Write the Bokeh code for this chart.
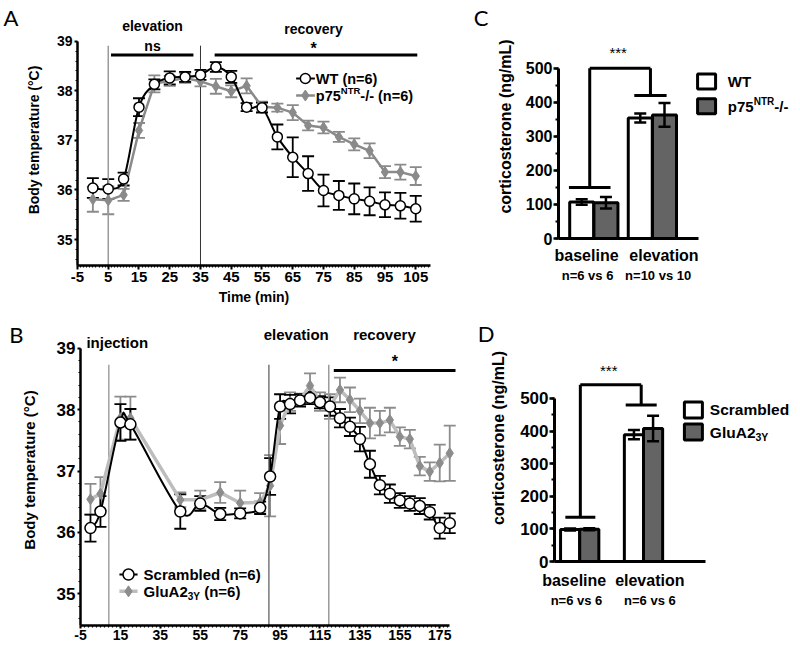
from bokeh.plotting import figure
from bokeh.layouts import row, column
from bokeh.models import Range1d, FixedTicker, Whisker, TeeHead, ColumnDataSource, LinearAxis
from bokeh.core.properties import value
from bokeh.embed import file_html
from bokeh.resources import INLINE

FONT = "Liberation Sans"
LETTER_FONT = "Lato"

# ---------------- data ----------------
# Panel A: body temperature, WT vs p75NTR-/-
A_time = [0, 5, 10, 15, 20, 25, 30, 35, 40, 45, 50, 55, 60, 65, 70, 75, 80, 85, 90, 95, 100, 105]
A_wt = [36.04, 36.02, 36.22, 37.67, 38.13, 38.26, 38.28, 38.32, 38.48, 38.28, 37.67, 37.66,
        37.07, 36.66, 36.33, 35.99, 35.89, 35.82, 35.77, 35.70, 35.68, 35.62]
A_wt_sem = [0.20, 0.20, 0.13, 0.18, 0.10, 0.13, 0.10, 0.10, 0.10, 0.12, 0.08, 0.10,
            0.25, 0.40, 0.35, 0.32, 0.29, 0.31, 0.28, 0.25, 0.26, 0.26]
A_ko = [35.81, 35.79, 35.90, 37.20, 38.14, 38.20, 38.26, 38.19, 38.09, 37.99, 38.10, 37.68,
        37.66, 37.56, 37.30, 37.26, 37.07, 36.92, 36.79, 36.36, 36.36, 36.28]
A_ko_sem = [0.25, 0.28, 0.12, 0.15, 0.17, 0.10, 0.10, 0.10, 0.15, 0.12, 0.15, 0.10,
            0.08, 0.15, 0.10, 0.12, 0.10, 0.12, 0.15, 0.12, 0.15, 0.18]
A_xticks = [-5, 5, 15, 25, 35, 45, 55, 65, 75, 85, 95, 105]
A_phase = [5, 35]
A_sig_ns = [5.9, 32.7]
A_sig_star = [39.6, 105.5]

# Panel B: body temperature, Scrambled vs GluA2-3Y
B_time = [0, 5, 15, 20, 45, 55, 65, 75, 85, 90, 95, 100, 105, 110, 115, 120, 125, 130,
          135, 140, 145, 150, 155, 160, 165, 170, 175, 180]
B_scr = [36.07, 36.34, 37.79, 37.76, 36.34, 36.47, 36.30, 36.31, 36.40, 36.91, 38.05, 38.09,
         38.15, 38.19, 38.12, 38.05, 37.86, 37.72, 37.52, 37.11, 36.77, 36.63, 36.52, 36.47,
         36.43, 36.33, 36.07, 36.15]
B_scr_sem = [0.22, 0.25, 0.30, 0.25, 0.28, 0.12, 0.10, 0.08, 0.10, 0.30, 0.20, 0.15, 0.10,
             0.10, 0.10, 0.15, 0.15, 0.15, 0.20, 0.22, 0.15, 0.15, 0.12, 0.12, 0.13, 0.12,
             0.17, 0.16]
B_glu = [36.54, 36.63, 37.86, 37.86, 36.53, 36.53, 36.65, 36.48, 36.49, 36.76, 37.74, 38.13,
         38.16, 38.39, 38.13, 38.05, 38.32, 38.16, 37.98, 37.78, 37.78, 37.83, 37.56, 37.52,
         37.08, 36.99, 37.13, 37.29]
B_glu_sem = [0.25, 0.27, 0.35, 0.35, 0.12, 0.15, 0.17, 0.20, 0.15, 0.50, 0.30, 0.15, 0.10,
             0.20, 0.15, 0.20, 0.20, 0.20, 0.20, 0.25, 0.20, 0.20, 0.15, 0.15, 0.15, 0.15,
             0.30, 0.45]
B_xticks = [-5, 15, 35, 55, 75, 95, 115, 135, 155, 175]
B_phase = [9.2, 89.4, 119.4]
B_sig_star = [121.9, 182.9]

T_ticks = [35, 36, 37, 38, 39]

# Panel C: corticosterone WT vs p75NTR-/-
C_groups = ["baseline", "elevation"]
C_n = ["n=6 vs 6", "n=10 vs 10"]
C_wt = [107, 354]
C_wt_sem = [8, 13]
C_ko = [105, 363]
C_ko_sem = [17, 35]
C_bracket_top = 500
C_bracket_lvl = [150, 420]

# Panel D: corticosterone Scrambled vs GluA2-3Y
D_groups = ["baseline", "elevation"]
D_n = ["n=6 vs 6", "n=6 vs 6"]
D_scr = [98, 389]
D_scr_sem = [3, 14]
D_glu = [99, 408]
D_glu_sem = [3, 39]
D_bracket_top = 542
D_bracket_lvl = [136, 480]

CORT_ticks = [0, 100, 200, 300, 400, 500]

# Arial-bold advance widths (per em) for composing super/subscript labels
AW = {'p': .611, '7': .556, '5': .556, 'N': .722, 'T': .611, 'R': .722, 'G': .778, 'l': .278,
      'u': .611, 'A': .722, '2': .556, '3': .556, 'Y': .667, ' ': .278}


def tw(s, size):
    return sum(AW.get(c, 0.556) for c in s) * size


GRAY_A = "#8a8a8a"
GRAY_B_LINE = "#bdbdbd"
GRAY_B = "#8c8c8c"
BAR_DARK = "#646464"


def base_style(p):
    p.outline_line_color = None
    p.xgrid.visible = False
    p.ygrid.visible = False
    p.background_fill_color = "white"
    p.border_fill_color = "white"
    for ax in p.axis:
        ax.axis_line_color = "black"
        ax.major_tick_line_color = "black"
        ax.minor_tick_line_color = "black"
        ax.major_tick_in = 0
        ax.minor_tick_in = 0
        ax.major_label_text_font = FONT
        ax.major_label_text_font_style = "bold"
        ax.major_label_text_color = "black"
        ax.axis_label_text_font = FONT
        ax.axis_label_text_font_style = "bold"
        ax.axis_label_text_color = "black"


def letter_axis(p, yv, letter, standoff):
    ax = LinearAxis(ticker=FixedTicker(ticks=[yv]), major_label_overrides={yv: letter},
                    axis_line_color=None, major_tick_line_color=None, minor_tick_line_color=None,
                    major_tick_out=0, major_tick_in=0, minor_tick_out=0, minor_tick_in=0,
                    major_label_text_font=LETTER_FONT, major_label_text_font_size="22px",
                    major_label_text_font_style="normal", major_label_text_color="black",
                    major_label_standoff=standoff)
    p.add_layout(ax, "left")


def category_axes(p, lab_x, labels, lab_size, lab_standoff, n_x, n_labels, n_size, n_standoff, x0, xend):
    ax = p.xaxis[0]
    ax.ticker = FixedTicker(ticks=lab_x)
    ax.major_label_overrides = dict(zip(lab_x, labels))
    ax.major_tick_out = 0
    ax.major_tick_line_color = None
    ax.major_label_standoff = lab_standoff
    ax.major_label_text_font_size = lab_size
    ax.bounds = (x0, xend)
    ax2 = LinearAxis(ticker=FixedTicker(ticks=n_x), major_label_overrides=dict(zip(n_x, n_labels)),
                     axis_line_color=None, major_tick_line_color=None, minor_tick_line_color=None,
                     major_tick_out=0, major_tick_in=0, minor_tick_out=0, minor_tick_in=0,
                     major_label_text_font=FONT, major_label_text_font_style="bold",
                     major_label_text_font_size=n_size, major_label_text_color="black",
                     major_label_standoff=n_standoff)
    p.add_layout(ax2, "below")


def whisker(p, xs, ys, es, color, width, cap, level="underlay"):
    src = ColumnDataSource(dict(x=xs, upper=[y + e for y, e in zip(ys, es)],
                                lower=[y - e for y, e in zip(ys, es)]))
    w = Whisker(source=src, base="x", upper="upper", lower="lower", level=level,
                line_color=color, line_width=width,
                upper_head=TeeHead(size=cap, line_color=color, line_width=width),
                lower_head=TeeHead(size=cap, line_color=color, line_width=width))
    p.add_layout(w)


def smooth_line(p, xs, ys, color, width):
    # curve drawn through the data points with bezier glyphs (Catmull-Rom style handles)
    n = len(xs)
    x0, y0, x1, y1, cx0, cy0, cx1, cy1 = [], [], [], [], [], [], [], []
    for i in range(n - 1):
        xp, yp = (xs[i - 1], ys[i - 1]) if i > 0 else (xs[i], ys[i])
        xn, yn = (xs[i + 2], ys[i + 2]) if i + 2 < n else (xs[i + 1], ys[i + 1])
        x0.append(xs[i]); y0.append(ys[i]); x1.append(xs[i + 1]); y1.append(ys[i + 1])
        cx0.append(xs[i] + (xs[i + 1] - xp) / 6); cy0.append(ys[i] + (ys[i + 1] - yp) / 6)
        cx1.append(xs[i + 1] - (xn - xs[i]) / 6); cy1.append(ys[i + 1] - (yn - ys[i]) / 6)
    p.bezier(x0=x0, y0=y0, x1=x1, y1=y1, cx0=cx0, cy0=cy0, cx1=cx1, cy1=cy1,
             line_color=color, line_width=width)


def txt(p, x, y, s, size, align="center", xo=0, yo=0, bold=True, font=FONT, color="black"):
    p.text(x=[x], y=[y], text=[s], text_font=value(font), text_font_size=size,
           text_font_style="bold" if bold else "normal", text_align=align,
           text_baseline="middle", x_offset=xo, y_offset=yo, text_color=color)


# ================= Panel A =================
A_y0, A_y1 = 34.476, 39.539
pA = figure(width=470, height=311, x_range=Range1d(-5, 109.8), y_range=Range1d(A_y0, A_y1),
            output_backend="svg", toolbar_location=None,
            min_border_left=70, min_border_right=40, min_border_top=14, min_border_bottom=46)
base_style(pA)
pA.xaxis.ticker = FixedTicker(ticks=A_xticks, minor_ticks=list(range(-5, 110, 1)))
pA.xaxis.major_label_overrides = {-5: "-5"}
pA.yaxis.ticker = FixedTicker(ticks=T_ticks,
                              minor_ticks=[round(34.6 + 0.2 * i, 1) for i in range(23)])
pA.yaxis.bounds = (A_y0, 39)
pA.xaxis.axis_label = "Time (min)"
pA.yaxis.axis_label = "Body temperature (°C)"
for ax in pA.axis:
    ax.axis_line_width = 2.5
    ax.major_tick_line_width = 2
    ax.minor_tick_line_width = 1.2
    ax.axis_label_text_font_size = "14px"
pA.xaxis.major_tick_out = 4
pA.xaxis.minor_tick_out = 2
pA.xaxis.major_label_standoff = 2
pA.xaxis.major_label_text_font_size = "15px"
pA.xaxis.axis_label_standoff = 4
pA.yaxis.major_tick_out = 3
pA.yaxis.minor_tick_out = 2
pA.yaxis.major_label_standoff = 2
pA.yaxis.major_label_text_font_size = "14px"
pA.yaxis.axis_label_standoff = 12
letter_axis(pA, 39.48, "A", 4)

pA.segment(x0=[A_phase[0]], y0=[A_y0], x1=[A_phase[0]], y1=[38.91], line_color="#9a9a9a", line_width=1.5)
pA.segment(x0=[A_phase[1]], y0=[A_y0], x1=[A_phase[1]], y1=[38.91], line_color="#333333", line_width=1)
pA.segment(x0=[A_sig_ns[0], A_sig_star[0]], y0=[38.72, 38.72], x1=[A_sig_ns[1], A_sig_star[1]],
           y1=[38.72, 38.72], line_color="black", line_width=3)
txt(pA, sum(A_sig_ns) / 2 + 0.1, 39.297, "elevation", "14px")
txt(pA, sum(A_sig_star) / 2 - 0.8, 39.256, "recovery", "14px")
txt(pA, sum(A_sig_ns) / 2 + 0.1, 38.905, "ns", "14px")
txt(pA, sum(A_sig_star) / 2 - 0.8, 38.86, "*", "16px")

whisker(pA, A_time, A_ko, A_ko_sem, GRAY_A, 1.8, 12)
pA.line(A_time, A_ko, line_color=GRAY_A, line_width=2.5)
pA.scatter(A_time, A_ko, marker="diamond", size=11, fill_color=GRAY_A, line_color=GRAY_A)
whisker(pA, A_time, A_wt, A_wt_sem, "black", 1.8, 12)
smooth_line(pA, A_time, A_wt, "black", 2)
pA.scatter(A_time, A_wt, marker="circle", size=10, fill_color="white", line_color="black", line_width=1.5)

# legend A
pA.segment(x0=[66.1, 66.1], y0=[38.248, 37.905], x1=[72.2, 72.2], y1=[38.248, 37.905],
           line_color=["black", GRAY_A], line_width=[2, 2.5])
pA.scatter([69.1], [38.248], marker="circle", size=10, fill_color="white", line_color="black", line_width=1.5)
pA.scatter([69.1], [37.905], marker="diamond", size=11, fill_color=GRAY_A, line_color=GRAY_A)
LA = "14.5px"
txt(pA, 72.5, 38.248, "WT (n=6)", LA, align="left")
txt(pA, 72.5, 37.905, "p75", LA, align="left")
txt(pA, 72.5, 37.905, "NTR", "9.5px", align="left", xo=tw("p75", 14.5), yo=-5)
txt(pA, 72.5, 37.905, "-/- (n=6)", LA, align="left", xo=tw("p75", 14.5) + tw("NTR", 9.5))

# ================= Panel C =================
C_x0, C_x1 = 0.3967, 4.4612
C_pos = [1, 2]
pC = figure(width=326, height=285, x_range=Range1d(C_x0, C_x1), y_range=Range1d(0, 657.9),
            output_backend="svg", toolbar_location=None,
            min_border_left=80, min_border_right=0, min_border_top=14, min_border_bottom=46)
base_style(pC)
pC.yaxis.ticker = FixedTicker(ticks=CORT_ticks, minor_ticks=list(range(0, 501, 50)))
pC.yaxis.bounds = (0, 500)
pC.yaxis.axis_label = "corticosterone (ng/mL)"
for ax in pC.axis:
    ax.axis_line_width = 3
    ax.major_tick_line_width = 2.5
    ax.minor_tick_line_width = 2
pC.yaxis.major_tick_out = 5
pC.yaxis.minor_tick_out = 3
pC.yaxis.major_label_standoff = 1
pC.yaxis.major_label_text_font_size = "16px"
pC.yaxis.axis_label_text_font_size = "16px"
pC.yaxis.axis_label_standoff = 9
category_axes(pC, [0.876, 2.198], C_groups, "16px", 8, [0.893, 2.099], C_n, "13px", 1, C_x0, 2.793)
letter_axis(pC, 650, "C", 5)

bw = 0.41
pC.vbar(x=[c - 0.207 for c in C_pos], top=C_wt, width=bw, fill_color="white", line_color="black", line_width=3)
pC.vbar(x=[c + 0.207 for c in C_pos], top=C_ko, width=bw, fill_color=BAR_DARK, line_color="black", line_width=3)
whisker(pC, [c - 0.207 for c in C_pos], C_wt, C_wt_sem, "black", 2.5, 12, level="annotation")
whisker(pC, [c + 0.207 for c in C_pos], C_ko, C_ko_sem, "black", 2.5, 12, level="annotation")
cb = [C_pos[0] - 0.07, C_pos[1] - 0.033]
chw = [0.355, 0.276]
pC.segment(x0=cb, y0=C_bracket_lvl, x1=cb, y1=[C_bracket_top] * 2, line_color="black", line_width=3)
pC.segment(x0=[cb[0]], y0=[C_bracket_top], x1=[cb[1]], y1=[C_bracket_top], line_color="black", line_width=3)
pC.segment(x0=[b - h for b, h in zip(cb, chw)], y0=C_bracket_lvl, x1=[b + h for b, h in zip(cb, chw)],
           y1=C_bracket_lvl, line_color="black", line_width=3)
txt(pC, 1.416, 546, "***", "15px", bold=False)
# legend C
pC.rect(x=[2.9256, 2.9256], y=[461.4, 388.3], width=18, height=15, width_units="screen",
        height_units="screen", fill_color=["white", BAR_DARK], line_color="black", line_width=3)
LC = "15px"
txt(pC, 3.289, 461.4, "WT", LC, align="left")
txt(pC, 3.289, 388.3, "p75", LC, align="left")
txt(pC, 3.289, 388.3, "NTR", "10px", align="left", xo=tw("p75", 15), yo=-5)
txt(pC, 3.289, 388.3, "-/-", LC, align="left", xo=tw("p75", 15) + tw("NTR", 10))

# ================= Panel B =================
B_y0, B_y1 = 34.484, 39.549
pB = figure(width=470, height=336, x_range=Range1d(-5, 186.4), y_range=Range1d(B_y0, B_y1),
            output_backend="svg", toolbar_location=None,
            min_border_left=80, min_border_right=8, min_border_top=3, min_border_bottom=22)
base_style(pB)
pB.xaxis.ticker = FixedTicker(ticks=B_xticks, minor_ticks=list(range(-5, 181, 2)))
pB.xaxis.major_label_overrides = {-5: "-5"}
pB.xaxis.bounds = (-5, 180)
pB.yaxis.ticker = FixedTicker(ticks=T_ticks,
                              minor_ticks=[round(34.6 + 0.2 * i, 1) for i in range(23)])
pB.yaxis.bounds = (B_y0, 39)
pB.yaxis.axis_label = "Body temperature (°C)"
for ax in pB.axis:
    ax.axis_line_width = 2.5
    ax.major_tick_line_width = 2
    ax.minor_tick_line_width = 1.2
pB.xaxis.major_tick_out = 3
pB.xaxis.minor_tick_out = 2
pB.xaxis.major_label_standoff = 1
pB.xaxis.major_label_text_font_size = "14px"
pB.yaxis.major_tick_out = 3
pB.yaxis.minor_tick_out = 2
pB.yaxis.major_label_standoff = 2
pB.yaxis.major_label_text_font_size = "17px"
pB.yaxis.axis_label_text_font_size = "15px"
pB.yaxis.axis_label_standoff = 16
letter_axis(pB, 39.53, "B", -6)

pB.segment(x0=B_phase, y0=[B_y0] * 3, x1=B_phase, y1=[38.73] * 3,
           line_color=["#8a8a8a", "#555555", "#9a9a9a"], line_width=[1.2, 1.2, 1.5])
pB.segment(x0=[B_sig_star[0]], y0=[38.636], x1=[B_sig_star[1]], y1=[38.636], line_color="black", line_width=3)
txt(pB, 152.5, 38.78, "*", "16px")
txt(pB, 13.4, 39.1, "injection", "15px")
txt(pB, 103.1, 39.22, "elevation", "15px")
txt(pB, 147.3, 39.22, "recovery", "15px")

whisker(pB, B_time, B_glu, B_glu_sem, GRAY_B, 1.8, 12)
pB.line(B_time, B_glu, line_color=GRAY_B_LINE, line_width=3.5)
pB.scatter(B_time, B_glu, marker="diamond", size=11, fill_color=GRAY_B, line_color=GRAY_B)
whisker(pB, B_time, B_scr, B_scr_sem, "black", 1.8, 12)
smooth_line(pB, B_time, B_scr, "black", 2)
pB.scatter(B_time, B_scr, marker="circle", size=11, fill_color="white", line_color="black", line_width=1.5)

# legend B
pB.segment(x0=[14.5, 14.5], y0=[35.314, 35.04], x1=[23.6, 23.6], y1=[35.314, 35.04],
           line_color=["black", GRAY_B_LINE], line_width=[2, 3.5])
pB.scatter([19.05], [35.314], marker="circle", size=11, fill_color="white", line_color="black", line_width=1.5)
pB.scatter([19.05], [35.04], marker="diamond", size=11, fill_color=GRAY_B, line_color=GRAY_B)
LB = "15px"
txt(pB, 26.6, 35.314, "Scrambled (n=6)", LB, align="left")
txt(pB, 26.6, 35.04, "GluA2", LB, align="left")
txt(pB, 26.6, 35.04, "3Y", "10px", align="left", xo=tw("GluA2", 15), yo=5)
txt(pB, 26.6, 35.04, "(n=6)", LB, align="left", xo=tw("GluA2", 15) + tw("3Y", 10) + tw(" ", 15))

# ================= Panel D =================
D_x0, D_x1 = 0.605, 4.398
D_pos = [1, 2]
pD = figure(width=326, height=299, x_range=Range1d(D_x0, D_x1), y_range=Range1d(0, 757.6),
            output_backend="svg", toolbar_location=None,
            min_border_left=84, min_border_right=0, min_border_top=3, min_border_bottom=46)
base_style(pD)
pD.yaxis.ticker = FixedTicker(ticks=CORT_ticks, minor_ticks=list(range(0, 501, 50)))
pD.yaxis.bounds = (0, 500)
pD.yaxis.axis_label = "corticosterone (ng/mL)"
for ax in pD.axis:
    ax.axis_line_width = 3
    ax.major_tick_line_width = 2.5
    ax.minor_tick_line_width = 2
pD.yaxis.major_tick_out = 5
pD.yaxis.minor_tick_out = 3
pD.yaxis.major_label_standoff = 1
pD.yaxis.major_label_text_font_size = "17px"
pD.yaxis.axis_label_text_font_size = "16px"
pD.yaxis.axis_label_standoff = 10
category_axes(pD, [0.914, 2.099], D_groups, "16px", 10, [0.95, 2.1], D_n, "13px", 1, D_x0, 2.972)
letter_axis(pD, 751, "D", -7)

dbw = 0.30
pD.vbar(x=[c - 0.15 for c in D_pos], top=D_scr, width=dbw, fill_color="white", line_color="black", line_width=3)
pD.vbar(x=[c + 0.15 for c in D_pos], top=D_glu, width=dbw, fill_color=BAR_DARK, line_color="black", line_width=3)
whisker(pD, [c - 0.15 for c in D_pos], D_scr, D_scr_sem, "black", 2.5, 12, level="annotation")
whisker(pD, [c + 0.15 for c in D_pos], D_glu, D_glu_sem, "black", 2.5, 12, level="annotation")
db = [D_pos[0] + 0.01, D_pos[1] - 0.036]
dhw = [0.235, 0.243]
pD.segment(x0=db, y0=D_bracket_lvl, x1=db, y1=[D_bracket_top] * 2, line_color="black", line_width=3)
pD.segment(x0=[db[0]], y0=[D_bracket_top], x1=[db[1]], y1=[D_bracket_top], line_color="black", line_width=3)
pD.segment(x0=[b - h for b, h in zip(db, dhw)], y0=D_bracket_lvl, x1=[b + h for b, h in zip(db, dhw)],
           y1=D_bracket_lvl, line_color="black", line_width=3)
txt(pD, 1.455, 586, "***", "15px", bold=False)
# legend D
pD.rect(x=[2.782, 2.782], y=[465, 397], width=18, height=16, width_units="screen",
        height_units="screen", fill_color=["white", BAR_DARK], line_color="black", line_width=3)
LD = "15.5px"
txt(pD, 3.04, 466, "Scrambled", LD, align="left")
txt(pD, 3.04, 397, "GluA2", LD, align="left")
txt(pD, 3.04, 397, "3Y", "10.5px", align="left", xo=tw("GluA2", 15.5), yo=5)

layout = column(row(column(pA), column(pC)), row(column(pB), column(pD)))
open("out.html", "w").write(file_html(layout, INLINE))
